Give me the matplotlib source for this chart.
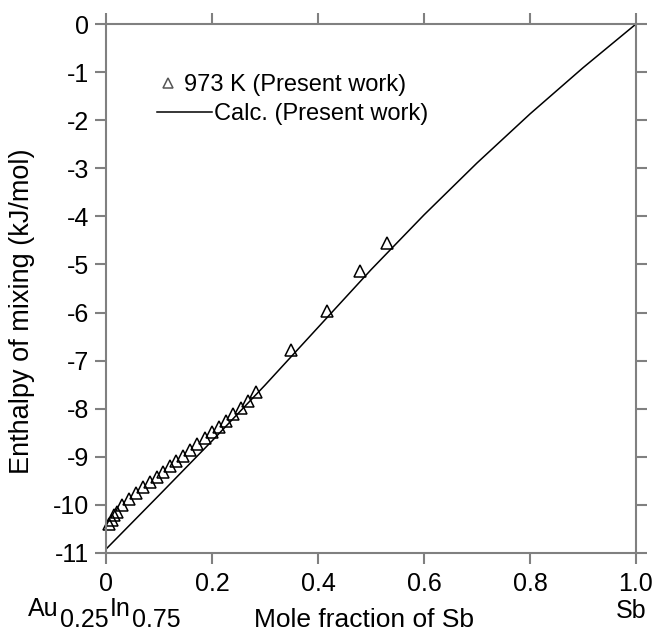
import matplotlib.pyplot as plt
from matplotlib.lines import Line2D

plt.rcParams['font.family'] = ['Liberation Sans', 'DejaVu Sans']

# measured enthalpy of mixing, 973 K (present work)
x_exp = [0.005, 0.011, 0.016, 0.021, 0.030, 0.043, 0.057, 0.070, 0.083, 0.096,
         0.108, 0.121, 0.132, 0.145, 0.158, 0.172, 0.187, 0.200, 0.213, 0.226,
         0.240, 0.255, 0.268, 0.283, 0.349, 0.417, 0.479, 0.530]
h_exp = [-10.40, -10.31, -10.22, -10.15, -10.00, -9.88, -9.75, -9.63, -9.52, -9.42,
         -9.31, -9.19, -9.09, -8.98, -8.86, -8.73, -8.61, -8.48, -8.38, -8.25,
         -8.11, -7.98, -7.84, -7.65, -6.78, -5.97, -5.13, -4.55]

# calculated curve
x_calc = [0, 0.1, 0.2, 0.3, 0.4, 0.5, 0.6, 0.7, 0.8, 0.9, 1.0]
h_calc = [-10.92, -9.80, -8.67, -7.51, -6.31, -5.11, -3.97, -2.89, -1.87, -0.91, 0]

xticks = [0, 0.2, 0.4, 0.6, 0.8, 1.0]
xticklabels = ['0', '0.2', '0.4', '0.6', '0.8', '1.0']
yticks = list(range(0, -12, -1))
yticklabels = ['0'] + ['-%d' % i for i in range(1, 12)]

grey = '#808080'

fig = plt.figure(figsize=(6.59, 6.32), dpi=100)
ax = fig.add_axes([106 / 659, 79 / 632, 530 / 659, 529 / 632])

calc, = ax.plot(x_calc, h_calc, color='black', lw=1.1)
pts, = ax.plot(x_exp, h_exp, ls='none', marker='^', ms=9, mfc='none',
               mec='black', mew=1.1, clip_on=False)

ax.set_xlim(0, 1)
ax.set_ylim(-11, 0)
ax.set_xticks(xticks)
ax.set_xticklabels(xticklabels)
ax.set_yticks(yticks)
ax.set_yticklabels(yticklabels)
ax.tick_params(direction='out', length=8, width=1.5, color=grey,
               top=True, right=True, labelsize=18, pad=4)
ax.tick_params(axis='x', pad=6)
for s in ax.spines.values():
    s.set_color(grey)
    s.set_linewidth(1.5)

# legend, two entries placed separately like the original
leg_pt = Line2D([], [], ls='none', marker='^', ms=7, mfc='none', mec='#555555', mew=1.1)
leg1 = ax.legend([leg_pt], ['973 K (Present work)'], loc='center left',
                 bbox_to_anchor=(0.104, 0.884), frameon=False, fontsize=17,
                 handlelength=0.6, handletextpad=0.35, borderpad=0, borderaxespad=0)
ax.add_artist(leg1)
ax.legend([calc], ['Calc. (Present work)'], loc='center left',
          bbox_to_anchor=(0.096, 0.830), frameon=False, fontsize=17,
          handlelength=2.33, handletextpad=0.1, borderpad=0, borderaxespad=0)

fig.text(22 / 659, 1 - 311 / 632, 'Enthalpy of mixing (kJ/mol)', rotation=90,
         fontsize=19.5, ha='center', va='center')
fig.text(363.5 / 659, 5 / 632, 'Mole fraction of Sb', fontsize=19,
         ha='center', va='baseline')
fig.text(631 / 659, 14 / 632, 'Sb', fontsize=18, ha='center', va='baseline')

# Au0.25In0.75 with lowered subscripts
t = fig.text(28 / 659, 16 / 632, 'Au', fontsize=18, va='baseline')
for txt, dy in [('0.25', -8), ('In', 8), ('0.75', -8)]:
    t = ax.annotate(txt, xy=(1, 0), xycoords=t, xytext=(1, dy),
                    textcoords='offset points', fontsize=18, va='bottom',
                    annotation_clip=False)

fig.savefig('out.png', dpi=100)
